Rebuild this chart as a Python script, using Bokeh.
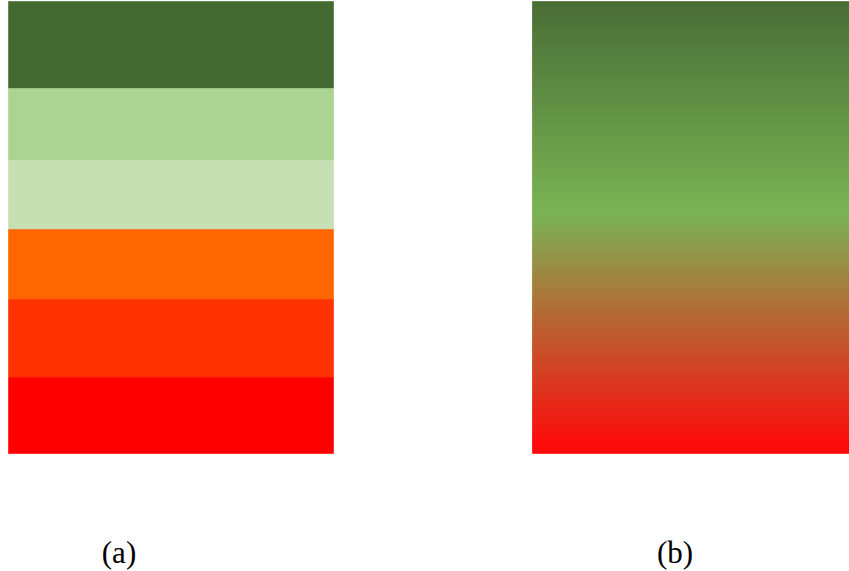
import numpy as np
from bokeh.plotting import figure
from bokeh.models import Range1d
from bokeh.core.properties import value
from bokeh.embed import file_html
from bokeh.resources import INLINE

# ---- data (coordinates in reference pixel space: x right, y down) ----
# Panel (a): stacked discrete bands, top to bottom
band_tops = [1, 88, 160, 229, 299, 377]
band_bottoms = [88, 160, 229, 299, 377, 453]
band_colors = ["#436a2e", "#abd391", "#c6e0b4", "#ff6600", "#ff3300", "#ff0000"]
panel_a_x = [8, 333]

# Panel (b): continuous gradient, colour stops by row
grad_stop_rows = [1, 213, 447, 453]
grad_stop_colors = [(66, 104, 45), (117, 176, 77), (255, 0, 0), (255, 0, 0)]
panel_b_x = [532, 849]

labels = ["(a)", "(b)"]
label_x = [118.5, 674.5]
label_y = [552, 552]

# ---- figure ----
p = figure(width=849, height=571, output_backend="svg", toolbar_location=None,
           x_range=Range1d(0, 849), y_range=Range1d(571, 0),
           min_border=0, min_border_left=0, min_border_right=0,
           min_border_top=0, min_border_bottom=0)
p.axis.visible = False
p.grid.visible = False
p.outline_line_color = None
p.background_fill_color = "white"
p.border_fill_color = "white"

# panel (a)
p.quad(left=panel_a_x[0], right=panel_a_x[1], top=band_tops, bottom=band_bottoms,
       fill_color=band_colors, line_color=band_colors, line_width=0.6)

# panel (b): render gradient as thin strips
rows = np.arange(grad_stop_rows[0], grad_stop_rows[-1])
rr = np.interp(rows + 0.5, grad_stop_rows, [c[0] for c in grad_stop_colors])
gg = np.interp(rows + 0.5, grad_stop_rows, [c[1] for c in grad_stop_colors])
bb = np.interp(rows + 0.5, grad_stop_rows, [c[2] for c in grad_stop_colors])
strip_colors = ["#%02x%02x%02x" % (int(round(r)), int(round(g)), int(round(b)))
                for r, g, b in zip(rr, gg, bb)]
p.quad(left=panel_b_x[0], right=panel_b_x[1], top=rows, bottom=rows + 1,
       fill_color=strip_colors, line_color=strip_colors, line_width=0.6)

p.text(x=label_x, y=label_y, text=labels, text_align="center",
       text_baseline="alphabetic", text_font=value("Liberation Serif"),
       text_font_size="31px", text_color="black")

open("out.html", "w").write(file_html(p, INLINE))
